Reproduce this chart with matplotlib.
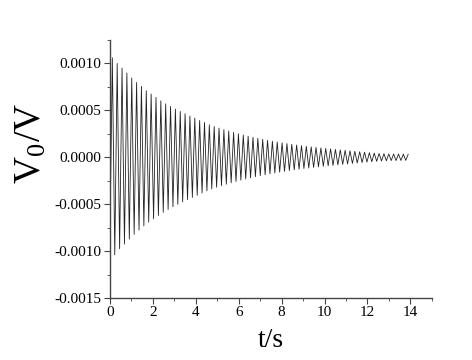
import numpy as np
import matplotlib
matplotlib.use('Agg')
import matplotlib.pyplot as plt
from matplotlib.ticker import MultipleLocator, FormatStrFormatter

# ── Origin-like style, Times-ish serif ─────────────────────────────────────
matplotlib.rcParams.update({
    'font.family': 'serif',
    'font.serif': ['Liberation Serif', 'DejaVu Serif'],
    'mathtext.fontset': 'stix',
    'axes.unicode_minus': False,
    'font.size': 11,
    'axes.linewidth': 1.0,
    'xtick.direction': 'out',
    'ytick.direction': 'out',
    'xtick.major.size': 4.0,
    'ytick.major.size': 4.0,
    'xtick.minor.size': 2.5,
    'ytick.minor.size': 2.5,
    'axes.spines.top': False,
    'axes.spines.right': False,
    'figure.facecolor': 'white',
})

# ── Data (volts) ───────────────────────────────────────────────────────────
t_first_peak = 0.11    # s, time of first maximum
period = 0.226         # s, measured peak-to-peak spacing

peaks = np.array([
    1.060, 1.000, 0.951, 0.898, 0.845, 0.797, 0.755, 0.709, 0.674, 0.638,
    0.602, 0.570, 0.542, 0.514, 0.488, 0.464, 0.439, 0.418, 0.392, 0.371,
    0.346, 0.328, 0.311, 0.295, 0.280, 0.265, 0.251, 0.238, 0.225, 0.213,
    0.202, 0.191, 0.181, 0.172, 0.163, 0.154, 0.146, 0.138, 0.131, 0.124,
    0.117, 0.111, 0.105, 0.099, 0.094, 0.089, 0.084, 0.079, 0.074, 0.069,
    0.064, 0.059, 0.054, 0.049, 0.045, 0.041, 0.038, 0.036, 0.035, 0.035,
    0.034, 0.032,
]) * 1e-3

troughs = np.array([
    -1.040, -0.975, -0.925, -0.872, -0.821, -0.776, -0.732, -0.691, -0.656, -0.620,
    -0.586, -0.556, -0.528, -0.501, -0.476, -0.451, -0.428, -0.405, -0.381, -0.358,
    -0.337, -0.319, -0.303, -0.287, -0.272, -0.258, -0.244, -0.231, -0.219, -0.207,
    -0.196, -0.186, -0.176, -0.167, -0.158, -0.150, -0.142, -0.134, -0.127, -0.120,
    -0.114, -0.108, -0.102, -0.096, -0.091, -0.086, -0.081, -0.076, -0.071, -0.066,
    -0.061, -0.056, -0.051, -0.047, -0.043, -0.040, -0.037, -0.035, -0.035, -0.034,
    -0.033, -0.030,
]) * 1e-3

t_start, v_start = 0.0, -0.0008

# interleave maxima and minima into one trace
n = len(peaks)
t_pk = t_first_peak + period * np.arange(n)
t_tr = t_pk + period / 2
t = np.concatenate([[t_start], np.column_stack([t_pk, t_tr]).ravel()])
v = np.concatenate([[v_start], np.column_stack([peaks, troughs]).ravel()])
keep = t <= 14.0
t, v = t[keep], v[keep]

# ── Figure ─────────────────────────────────────────────────────────────────
fig = plt.figure(figsize=(4.72, 3.60), dpi=100)
ax = fig.add_axes([0.233, 0.172, 0.682, 0.717])

ax.plot(t, v, color='#222222', lw=0.6)

ax.set_xlim(0, 15)
ax.set_ylim(-0.0015, 0.00125)
ax.xaxis.set_major_locator(MultipleLocator(2))
ax.xaxis.set_minor_locator(MultipleLocator(1))
ax.yaxis.set_major_locator(MultipleLocator(0.0005))
ax.yaxis.set_minor_locator(MultipleLocator(0.00025))
ax.yaxis.set_major_formatter(FormatStrFormatter('%.4f'))
ax.set_xticks([0, 2, 4, 6, 8, 10, 12, 14])

for s in ('left', 'bottom'):
    ax.spines[s].set_color('#444444')
ax.tick_params(which='both', colors='#444444', labelcolor='black')
ax.tick_params(axis='both', labelsize=11, pad=2)

ax.set_xlabel('t/s', fontsize=20, labelpad=6)
ax.set_ylabel(r'V$_\mathregular{0}$/V', fontsize=27)
ax.yaxis.set_label_coords(-0.19, 0.60)

fig.savefig('out.png', dpi=100, facecolor='white')
plt.close(fig)
